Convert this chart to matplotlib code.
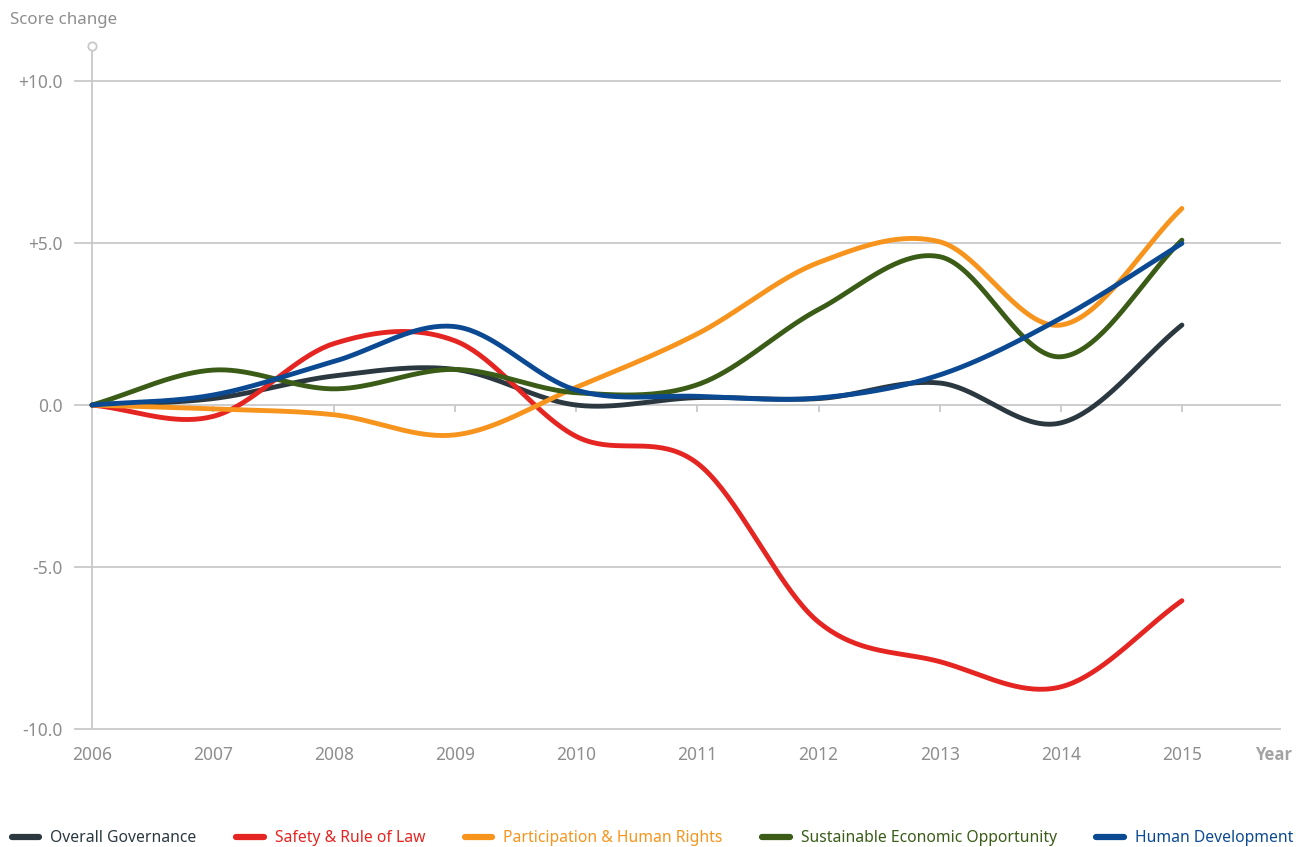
import matplotlib.pyplot as plt
import numpy as np
from matplotlib.lines import Line2D

plt.rcParams['font.family'] = ['Noto Sans', 'DejaVu Sans']

# roky a změny skóre jednotlivých kategorií
years = [2006, 2007, 2008, 2009, 2010, 2011, 2012, 2013, 2014, 2015]

overall = [0.0, 0.2, 0.9, 1.1, 0.0, 0.23, 0.2, 0.68, -0.55, 2.47]
safety = [0.0, -0.35, 1.9, 1.98, -0.97, -1.8, -6.7, -7.92, -8.7, -6.04]
participation = [0.0, -0.12, -0.3, -0.92, 0.55, 2.2, 4.4, 5.04, 2.47, 6.07]
economic = [0.0, 1.08, 0.5, 1.1, 0.38, 0.63, 2.95, 4.58, 1.49, 5.09]
human = [0.0, 0.31, 1.35, 2.42, 0.46, 0.27, 0.22, 0.93, 2.68, 4.99]

labels = ["Overall Governance", "Safety & Rule of Law",
          "Participation & Human Rights", "Sustainable Economic Opportunity",
          "Human Development"]
colors = ["#2b3840", "#e52521", "#f7941d", "#3a5c17", "#0b4a92"]

yticks = [-10, -5, 0, 5, 10]
ytick_labels = ["-10.0", "-5.0", "0.0", "+5.0", "+10.0"]

grey = "#c9c9cb"
text_grey = "#8e8e8e"


# vyhlazení křivky Catmull-Rom splinem
def catmull_rom(x, y, steps=40):
    x = np.asarray(x, dtype=float)
    y = np.asarray(y, dtype=float)
    m = np.gradient(y, x)
    xs, ys = [], []
    for i in range(len(x) - 1):
        h = x[i + 1] - x[i]
        t = np.linspace(0, 1, steps, endpoint=(i == len(x) - 2))
        h00 = 2 * t**3 - 3 * t**2 + 1
        h10 = t**3 - 2 * t**2 + t
        h01 = -2 * t**3 + 3 * t**2
        h11 = t**3 - t**2
        xs.append(x[i] + t * h)
        ys.append(h00 * y[i] + h10 * h * m[i] + h01 * y[i + 1] + h11 * h * m[i + 1])
    return np.concatenate(xs), np.concatenate(ys)


fig = plt.figure(figsize=(12.96, 8.47), dpi=100)
ax = fig.add_axes([75 / 1296, 118 / 847, 1205 / 1296, 690 / 847])

ax.set_xlim(2005.86, 2015.81)
ax.set_ylim(-10, 11.3)

# vodorovná mřížka
for v in yticks:
    ax.axhline(v, color=grey, lw=1.3, zorder=1, clip_on=False)

# svislá osa s kroužkem nahoře
ax.plot([years[0], years[0]], [-10, 11.08], color=grey, lw=1.3, zorder=1)
ax.plot(years[0], 11.08, "o", ms=6, mfc="white", mec=grey, mew=1.3, zorder=2, clip_on=False)

# značky roků na nulové čáře
ax.vlines(years[1:], -0.2, 0, color=grey, lw=1.3, zorder=1)

for series, color, label in zip([overall, safety, participation, economic, human], colors, labels):
    xs, ys = catmull_rom(years, series)
    ax.plot(xs, ys, color=color, lw=3.5, solid_capstyle="round", label=label, zorder=3)

for s in ax.spines.values():
    s.set_visible(False)

ax.set_yticks(yticks)
ax.set_yticklabels(ytick_labels)
ax.set_xticks(years)
ax.set_xticklabels([str(y) for y in years])
ax.tick_params(axis="both", length=0, labelsize=12.5, labelcolor=text_grey)
ax.tick_params(axis="y", pad=9)
ax.tick_params(axis="x", pad=12)

fig.text(10 / 1296, 1 - 20 / 847, "Score change", fontsize=12.2, color=text_grey, va="center")
fig.text(1274 / 1296, 1 - 755 / 847, "Year", fontsize=12, color="#a3a3a3",
         family=["Open Sans", "DejaVu Sans"], fontweight="bold", va="center", ha="center")

handles = [Line2D([0], [0], color=c, lw=4.5, solid_capstyle="round") for c in colors]
leg = fig.legend(handles, labels, loc="center left", bbox_to_anchor=(12 / 1296, 9 / 847),
                 ncol=5, frameon=False, fontsize=11.3, handlelength=1.75, handletextpad=0.7,
                 columnspacing=2.52, borderpad=0, borderaxespad=0)
for txt, c in zip(leg.get_texts(), colors):
    txt.set_color(c)

plt.savefig("out.png", dpi=100)
